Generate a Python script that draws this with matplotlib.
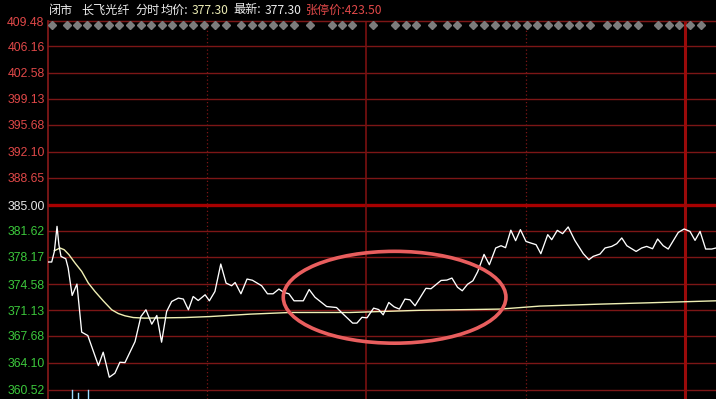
import matplotlib
matplotlib.use("Agg")
import matplotlib.pyplot as plt
import matplotlib.transforms as mtransforms
from matplotlib.patches import Ellipse

# y axis ticks of the intraday (分时) chart
TICK_VALUES = [409.48, 406.16, 402.58, 399.13, 395.68, 392.10, 388.65, 385.00,
               381.62, 378.17, 374.58, 371.13, 367.68, 364.10, 360.52]
TICK_LABELS = [f"{v:.2f}" for v in TICK_VALUES]
PREV_CLOSE = 385.00

# price line: minutes after open, price
PRICE_MIN = [0, 1.4, 2.4, 3.4, 4.1, 4.9, 6.7, 7.6, 9.1, 10.9,
             12.7, 15.0, 19.0, 20.8, 23.1, 25.2, 27.1, 29.0, 32.8, 35.0,
             36.9, 39.1, 41.0, 42.8, 44.7, 46.6, 49.1, 51.0, 52.9, 54.7,
             56.6, 59.2, 60.8, 62.9, 65.1, 67.1, 69.2, 70.5, 72.7, 75.0,
             77.0, 80.5, 82.7, 84.8, 87.0, 88.9, 90.8, 92.7, 96.2, 98.4,
             100.6, 105.0, 108.7, 111.3, 114.8, 116.4, 118.3, 120.2, 122.7, 124.6,
             126.3, 128.4, 130.4, 132.4, 134.5, 136.4, 138.3, 142.4, 144.3, 148.1,
             150.3, 152.2, 154.3, 156.1, 158.1, 160.1, 161.9, 164.3, 166.3, 168.7,
             170.7, 172.4, 174.4, 176.2, 178.0, 180.1, 181.9, 183.9, 185.7, 188.3,
             189.8, 191.9, 193.9, 196.0, 198.5, 201.7, 203.8, 205.4, 208.0, 209.9,
             212.4, 214.3, 216.2, 218.1, 221.6, 223.7, 225.6, 227.8, 229.7, 231.8,
             233.7, 237.5, 239.7, 241.9, 243.8, 245.7, 247.8, 250.1, 251.7]
PRICE = [377.50, 377.50, 378.90, 382.23, 379.80, 378.24, 377.93, 376.70, 373.06, 374.57,
         368.19, 367.74, 363.75, 365.53, 362.21, 362.74, 364.20, 364.15, 366.94, 370.26,
         371.16, 369.25, 370.40, 366.86, 370.93, 372.26, 372.71, 372.58, 371.16, 372.92,
         372.39, 373.15, 372.35, 373.59, 377.23, 374.70, 374.35, 374.78, 373.28, 375.24,
         375.08, 374.35, 373.28, 373.28, 373.91, 373.46, 373.28, 372.35, 372.35, 373.85,
         372.82, 371.59, 371.46, 370.56, 369.39, 369.39, 370.16, 370.09, 371.38, 371.19,
         370.49, 372.13, 371.55, 371.25, 372.58, 372.48, 371.69, 374.01, 373.95, 375.05,
         375.10, 375.37, 374.15, 373.68, 374.55, 375.01, 376.21, 378.51, 377.14, 379.36,
         379.66, 379.40, 381.72, 380.33, 381.79, 380.23, 380.02, 379.80, 378.60, 381.13,
         380.46, 381.70, 381.26, 382.15, 380.37, 378.60, 377.80, 378.24, 378.56, 379.36,
         379.57, 379.93, 380.69, 379.66, 378.90, 379.36, 379.57, 379.26, 380.55, 379.66,
         379.22, 381.43, 381.88, 381.56, 380.37, 381.56, 379.22, 379.22, 379.36]

# average price line
AVG_MIN = [2.4, 4.5, 6.1, 7.9, 10.2, 12.7, 15.2, 17.7, 20.8, 24.0, 26.5, 29.0,
           32.1, 36.5, 51.6, 61.0, 76.1, 91.2, 113.8, 140.2, 170.3, 185.4,
           208.0, 226.8, 251.7]
AVG = [378.99, 379.36, 379.13, 378.47, 377.36, 376.25, 374.70, 373.59, 372.35,
       371.16, 370.66, 370.36, 370.13, 370.05, 370.13, 370.26, 370.58, 370.80,
       370.80, 371.09, 371.25, 371.65, 371.91, 372.09, 372.35]

# grey diamond markers along the top edge
MARK_MIN = [1.4, 7.0, 11.0, 14.8, 19.0, 23.0, 26.9, 30.9, 34.9, 38.8, 42.8, 46.8,
            50.8, 54.7, 58.8, 62.9, 66.9, 72.6, 76.7, 80.7, 84.7, 88.7, 92.7, 98.7,
            106.9, 110.8, 114.7, 122.6, 130.7, 134.8, 138.7, 144.6, 150.2, 154.2,
            160.3, 164.3, 168.4, 172.4, 176.3, 180.4, 184.4, 188.3, 192.3, 196.3,
            200.2, 204.3, 210.5, 214.5, 218.3, 222.2, 230.0, 234.0, 237.9, 241.9,
            245.9]

# volume bars poking up from the panel below
VOL_MIN = [9.0, 11.3, 15.1]
VOL_TOP = [0.024, 0.015, 0.024]

GRID_RED = "#7c1616"
UP_RED = "#e04848"
DOWN_GREEN = "#3cc83c"

fig = plt.figure(figsize=(7.16, 3.99), dpi=100, facecolor="black")
ax = fig.add_axes([48 / 716, 0, 668 / 716, 378 / 399])
ax.set_facecolor("black")
ax.set_xlim(0, 251.7)
ax.set_ylim(359.32, 409.48)

for v in TICK_VALUES:
    if v == PREV_CLOSE:
        ax.axhline(v, color="#a80000", lw=2.4, zorder=1)
    else:
        ax.axhline(v, color=GRID_RED, lw=1.0, zorder=1, clip_on=False)

ax.axvline(60, color=GRID_RED, lw=0.9, ls=(0, (1, 2)), zorder=1)
ax.axvline(180, color=GRID_RED, lw=0.9, ls=(0, (1, 2)), zorder=1)
ax.axvline(120, color="#7a1010", lw=1.2, zorder=1)
ax.axvline(240, color="#9a0a0a", lw=2.2, zorder=1)

for s in ["right", "bottom"]:
    ax.spines[s].set_visible(False)
ax.spines["left"].set_color("#8a1a1a")
ax.spines["left"].set_linewidth(1.2)
ax.spines["top"].set_color(GRID_RED)

ax.set_xticks([])
ax.set_yticks(TICK_VALUES)
ax.set_yticklabels(TICK_LABELS, family="Liberation Sans", fontsize=8.8)
ax.tick_params(axis="y", length=0, pad=2.5)
for lab, v in zip(ax.get_yticklabels(), TICK_VALUES):
    if v > PREV_CLOSE:
        lab.set_color(UP_RED)
    elif v < PREV_CLOSE:
        lab.set_color(DOWN_GREEN)
    else:
        lab.set_color("#e8e8e8")

ax.plot(AVG_MIN, AVG, color="#f0f0b4", lw=1.0, zorder=3)
ax.plot(PRICE_MIN, PRICE, color="white", lw=0.95, zorder=4)

trans = mtransforms.blended_transform_factory(ax.transData, ax.transAxes)
ax.plot(MARK_MIN, [0.989] * len(MARK_MIN), transform=trans, ls="none",
        marker="D", ms=4.4, color="#7c7c7c", clip_on=False, zorder=5)
for x, top in zip(VOL_MIN, VOL_TOP):
    ax.plot([x, x], [0, top], transform=trans, color="#9fdcff", lw=1.0)

# hand drawn highlight ring
ring = Ellipse((130.6, 372.82), 83.9, 12.19, fill=False,
               edgecolor="#e85e5e", lw=2.6, zorder=6)
ax.add_patch(ring)

# header line
cjk = ["Noto Sans CJK SC", "DejaVu Sans"]
ty = 1 - 10 / 399
header = [(49, "闭市", "#ececec"), (81, "长飞光纤", "#ececec"),
          (135, "分时", "#ececec"), (161, "均价:", "#ececec"),
          (192, "377.30", "#ececb4"), (233, "最新:", "#ececec"),
          (265, "377.30", "#ececec"), (306, "张停价:423.50", UP_RED)]
for px, txt, col in header:
    fig.text(px / 716, ty, txt, color=col, fontsize=8.7, family=cjk,
             ha="left", va="center")

fig.savefig("out.png", dpi=100, facecolor="black")
